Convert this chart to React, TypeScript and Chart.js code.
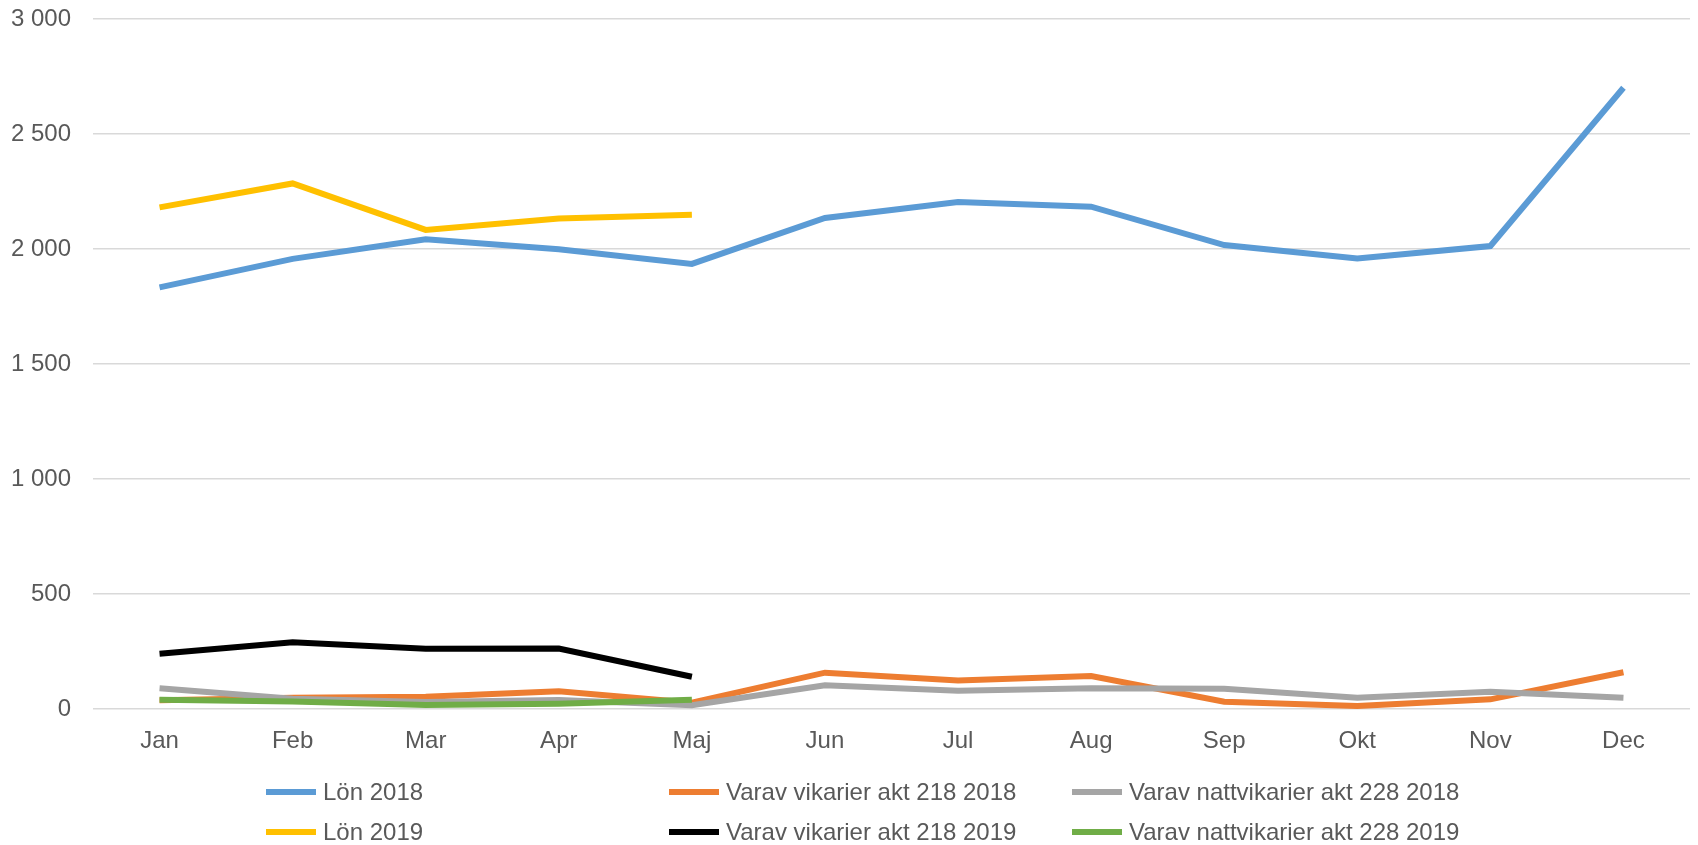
import React, { useEffect, useRef } from "react";
import { Chart, registerables } from "chart.js";

Chart.register(...registerables);

const months = ["Jan", "Feb", "Mar", "Apr", "Maj", "Jun", "Jul", "Aug", "Sep", "Okt", "Nov", "Dec"];
const lon2018 = [1833, 1957, 2042, 1999, 1935, 2135, 2204, 2184, 2017, 1959, 2013, 2701];
const vik2018 = [38, 49, 53, 77, 27, 158, 124, 143, 32, 13, 42, 160];
const natt2018 = [90, 45, 30, 39, 16, 103, 79, 90, 88, 49, 75, 49];
const lon2019 = [2181, 2285, 2083, 2133, 2149, null, null, null, null, null, null, null];
const vik2019 = [240, 290, 262, 263, 140, null, null, null, null, null, null, null];
const natt2019 = [40, 33, 17, 23, 40, null, null, null, null, null, null, null];
const seriesNames = [
  "Lön 2018",
  "Varav vikarier akt 218 2018",
  "Varav nattvikarier akt 228 2018",
  "Lön 2019",
  "Varav vikarier akt 218 2019",
  "Varav nattvikarier akt 228 2019",
];
const seriesColors = ["#5B9BD5", "#ED7D31", "#A5A5A5", "#FFC000", "#000000", "#70AD47"];
const yTicks = { min: 0, max: 3000, step: 500 };

const FONT = "'Liberation Sans', Arial, sans-serif";

const fmt = (v: number) => String(v).replace(/\B(?=(\d{3})+(?!\d))/g, " ");

const legendPlugin = {
  id: "gridLegend",
  afterDraw(chart: any) {
    const ctx = chart.ctx;
    const cols = [266, 669, 1072];
    const rows = [792, 832];
    ctx.save();
    ctx.font = `24px ${FONT}`;
    ctx.textBaseline = "middle";
    ctx.textAlign = "left";
    chart.data.datasets.forEach((ds: any, i: number) => {
      const x = cols[i % 3];
      const y = rows[Math.floor(i / 3)];
      ctx.strokeStyle = ds.borderColor;
      ctx.lineWidth = 6;
      ctx.beginPath();
      ctx.moveTo(x, y);
      ctx.lineTo(x + 50, y);
      ctx.stroke();
      ctx.fillStyle = "#595959";
      ctx.fillText(ds.label, x + 57, y + 1);
    });
    ctx.restore();
  },
};

export default function App() {
  const ref = useRef<HTMLCanvasElement | null>(null);
  useEffect(() => {
    document.body.style.margin = "0";
    const all = [lon2018, vik2018, natt2018, lon2019, vik2019, natt2019];
    const chart = new Chart(ref.current!, {
      type: "line",
      data: {
        labels: months,
        datasets: all.map((d, i) => ({
          label: seriesNames[i],
          data: d,
          borderColor: seriesColors[i],
          backgroundColor: seriesColors[i],
          borderWidth: 6,
          pointRadius: 0,
          tension: 0,
          fill: false,
          spanGaps: false,
          order: 10 - i,
        })),
      },
      options: {
        animation: false,
        responsive: false,
        maintainAspectRatio: false,
        layout: { padding: { top: 19, right: 8, left: 0, bottom: 0 } },
        plugins: { legend: { display: false }, tooltip: { enabled: false } },
        scales: {
          x: {
            offset: true,
            grid: { display: false, drawTicks: false },
            border: { display: false },
            ticks: { color: "#595959", font: { family: FONT, size: 24 }, padding: 18, maxRotation: 0 },
            afterFit: (s: any) => {
              s.height = 136;
            },
          },
          y: {
            min: yTicks.min,
            max: yTicks.max,
            grid: { color: "#d9d9d9", lineWidth: 1.5, drawTicks: false },
            border: { display: false },
            ticks: {
              stepSize: yTicks.step,
              color: "#595959",
              font: { family: FONT, size: 24 },
              padding: 22,
              callback: (v: any) => fmt(Number(v)),
            },
            afterFit: (s: any) => {
              s.width = 93;
              s.paddingTop = 0;
              s.paddingBottom = 0;
            },
          },
        },
      },
      plugins: [legendPlugin],
    });
    return () => chart.destroy();
  }, []);
  return <canvas ref={ref} width={1698} height={845} style={{ display: "block" }} />;
}
